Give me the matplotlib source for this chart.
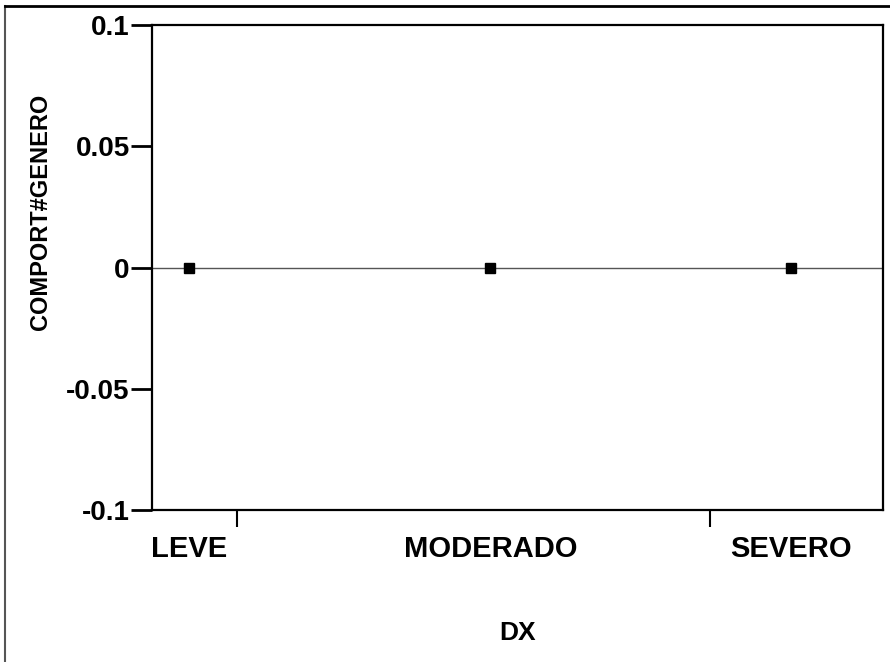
import matplotlib
matplotlib.use("Agg")
import matplotlib.pyplot as plt
from matplotlib.lines import Line2D

# categories on the x axis and the interaction value per category
dx_levels = ["LEVE", "MODERADO", "SEVERO"]
comport_genero = [0.0, 0.0, 0.0]

y_ticks = [-0.1, -0.05, 0.0, 0.05, 0.1]
y_tick_labels = ["-0.1", "-0.05", "0", "0.05", "0.1"]

plt.rcParams['font.family'] = ['Liberation Sans', 'DejaVu Sans']
plt.rcParams['font.weight'] = 'bold'

fig = plt.figure(figsize=(8.9, 6.62), dpi=100)
ax = fig.add_axes([0.1708, 0.2296, 0.8213, 0.7326])

x = list(range(len(dx_levels)))

# reference line at zero through the whole plot, then the means
ax.axhline(0, color="#555555", lw=1.0, zorder=1)
ax.plot(x, comport_genero, ls="none", marker="s", ms=6.5, color="black", zorder=3)

ax.set_xlim(-0.124, 2.305)
ax.set_ylim(-0.1, 0.1)

ax.set_yticks(y_ticks)
ax.set_yticklabels(y_tick_labels)
ax.tick_params(axis="y", direction="out", length=15, width=2, labelsize=20, pad=1)

ax.set_xticks(x)
ax.set_xticklabels(dx_levels)
ax.set_xticks([0.16, 1.73], minor=True)
ax.tick_params(axis="x", which="major", length=0, labelsize=21, pad=18)
ax.tick_params(axis="x", which="minor", direction="out", length=12, width=1.5)

for side in ["left", "right", "top", "bottom"]:
    ax.spines[side].set_linewidth(1.6)
    ax.spines[side].set_color("black")

ax.set_ylabel("COMPORT#GENERO", fontsize=17, fontweight="bold")
ax.yaxis.set_label_coords(-0.137, 0.614)
ax.set_xlabel("DX", fontsize=19, fontweight="bold")
ax.xaxis.set_label_coords(0.5, -0.229)

# outer frame of the report panel
frame = dict(color="#555555", lw=1.5, transform=fig.transFigure, clip_on=False)
fig.add_artist(Line2D([5 / 890, 5 / 890], [0, 1 - 6 / 662], **frame))
fig.add_artist(Line2D([5 / 890, 1], [1 - 6 / 662, 1 - 6 / 662], color="black", lw=2,
                      transform=fig.transFigure, clip_on=False))

fig.savefig("out.png", dpi=100)
